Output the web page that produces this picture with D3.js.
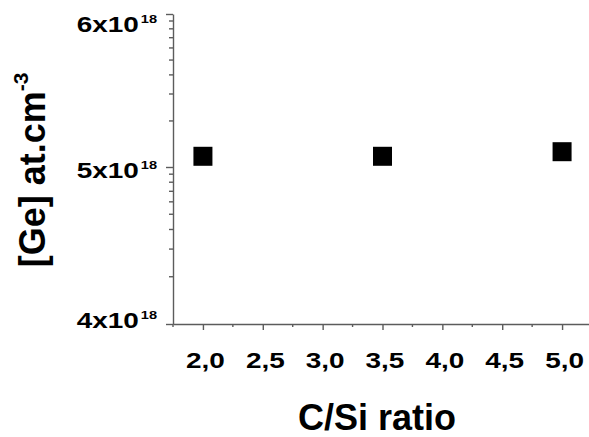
<!DOCTYPE html>
<html>
<head>
<meta charset="utf-8">
<script src="https://cdn.jsdelivr.net/npm/d3@7"></script>
<style>
html,body{margin:0;padding:0;background:#fff;}
svg{display:block;}
</style>
</head>
<body>
<svg id="chart" width="589" height="437"></svg>
<script>
// ---- data ----
const categories = [2.0, 3.5, 5.0];              // C/Si ratio
const geValues   = [5.07, 5.07, 5.10];           // [Ge] in units of 1e18 at.cm-3
const xTickValues = [2.0, 2.5, 3.0, 3.5, 4.0, 4.5, 5.0];
const xTickLabels = ["2,0", "2,5", "3,0", "3,5", "4,0", "4,5", "5,0"];
const xMinorTicks = [1.75, 2.25, 2.75, 3.25, 3.75, 4.25, 4.75, 5.25];
const yTickValues = [4, 5, 6];
const yTickMantissa = ["4x10", "5x10", "6x10"];
const yTickExponent = "18";
const yMinorSteps = [2, 3, 4, 5, 6, 7, 8, 9];
const xTitle = "C/Si ratio";
const yTitleMain = "[Ge] at.cm";
const yTitleSup = "-3";

// ---- layout ----
const svg = d3.select("#chart");
const axisColor = "#5c5c5c";
const titleFont = "'Liberation Sans', Arial, sans-serif";
const tickFont = "'Liberation Sans', Arial, sans-serif";
const stretch = 1.27;

const x = d3.scaleLinear().domain([1.75, 5.25]).range([173, 592]);
const y = d3.scaleLinear().domain([4, 5, 6]).range([324, 167, 14]);
const yLabelPos = d3.scaleLinear().domain([4, 5, 6]).range([328, 178, 31.5]);

// minor y ticks (log-like spacing within each interval)
const yMinor = [];
[4, 5].forEach(a => yMinorSteps.forEach(k => yMinor.push(a + Math.log10(k))));

// X axis
const gx = svg.append("g").attr("transform", `translate(0,${y(4)})`);
gx.call(d3.axisBottom(x).tickValues(xTickValues).tickSize(6).tickSizeOuter(0)
    .tickFormat((d, i) => xTickLabels[i]));
gx.select(".domain").attr("stroke", axisColor).attr("stroke-width", 1.4);
gx.selectAll(".tick line").attr("stroke", axisColor).attr("stroke-width", 1.4);
gx.selectAll(".tick text")
  .attr("x", 0).attr("y", 0).attr("dy", 0)
  .attr("transform", `translate(2,44) scale(${stretch},1)`)
  .attr("fill", "#000")
  .style("font-family", tickFont).style("font-weight", "bold").style("font-size", "22px");
gx.append("g").selectAll("line").data(xMinorTicks).join("line")
  .attr("x1", d => x(d)).attr("x2", d => x(d))
  .attr("y1", 0).attr("y2", 3)
  .attr("stroke", axisColor).attr("stroke-width", 1.4);

// Y axis
const gy = svg.append("g").attr("transform", `translate(${x(1.75)},0)`);
gy.call(d3.axisLeft(y).tickValues(yTickValues).tickSize(7).tickSizeOuter(0).tickFormat(""));
gy.select(".domain").attr("stroke", axisColor).attr("stroke-width", 1.4);
gy.selectAll(".tick line").attr("stroke", axisColor).attr("stroke-width", 1.4);
gy.append("g").selectAll("line").data(yMinor).join("line")
  .attr("x1", 0).attr("x2", -4)
  .attr("y1", d => y(d)).attr("y2", d => y(d))
  .attr("stroke", axisColor).attr("stroke-width", 1.4);

// Y tick labels
const yl = svg.append("g").selectAll("text").data(yTickValues).join("text")
  .attr("transform", d => `translate(157,${yLabelPos(d)}) scale(${stretch},1)`)
  .attr("text-anchor", "end")
  .style("font-family", tickFont).style("font-weight", "bold").style("font-size", "22px")
  .attr("fill", "#000");
yl.append("tspan").text((d, i) => yTickMantissa[i]);
yl.append("tspan").attr("dx", 1.5).attr("dy", -9).style("font-size", "11.5px").text(yTickExponent);

// markers
const size = 19;
svg.append("g").selectAll("rect").data(categories).join("rect")
  .attr("x", d => x(d) - size / 2)
  .attr("y", (d, i) => y(geValues[i]) - size / 2)
  .attr("width", size).attr("height", size)
  .attr("fill", "#000");

// X title
svg.append("text")
  .attr("x", 377).attr("y", 430)
  .attr("text-anchor", "middle")
  .style("font-family", titleFont).style("font-weight", "bold").style("font-size", "36px")
  .text(xTitle);

// Y title
const yt = svg.append("text")
  .attr("transform", "translate(45,170) rotate(-90)")
  .attr("text-anchor", "middle")
  .style("font-family", titleFont).style("font-weight", "bold").style("font-size", "36px");
yt.append("tspan").text(yTitleMain);
yt.append("tspan").attr("dy", -17).style("font-size", "21px").text(yTitleSup);
</script>
</body>
</html>
